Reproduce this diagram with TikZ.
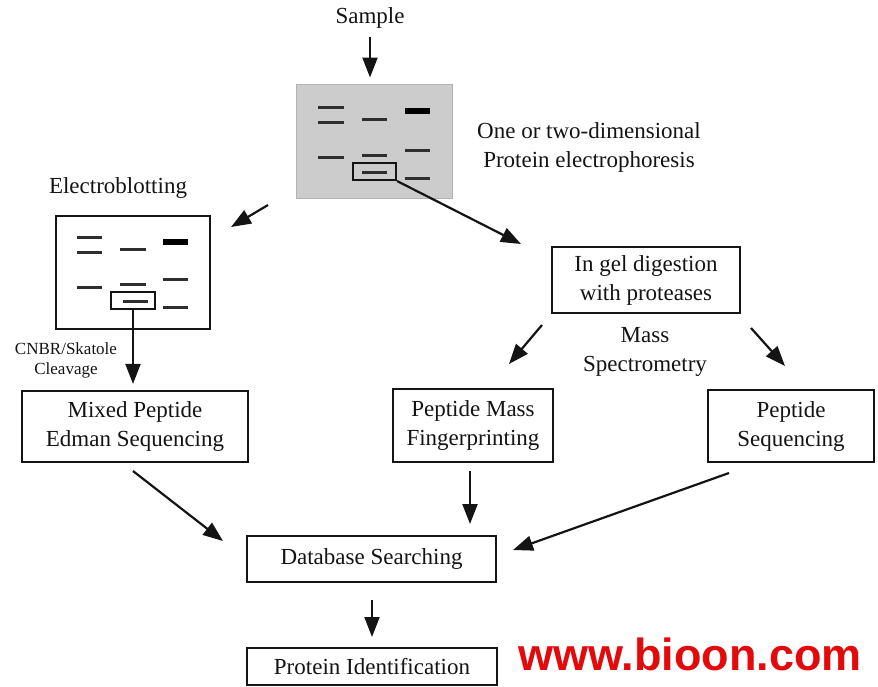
\documentclass[tikz,border=0pt]{standalone}
\usepackage{fontspec}
\setmainfont{Liberation Serif}
\newfontfamily\wmfont{Liberation Sans}
\usetikzlibrary{arrows.meta}
\definecolor{ink}{HTML}{141414}
\definecolor{band}{HTML}{2E2E2E}
\definecolor{wmred}{HTML}{E20A0A}
\tikzset{
  every node/.style={text=ink, inner sep=0pt},
  label/.style={font=\fontsize{23}{29}\selectfont, align=center},
  small/.style={font=\fontsize{17}{20}\selectfont, align=center},
  stepbox/.style={draw=ink, line width=2.2pt, fill=white, label},
  gelbox/.style={draw=gray!60, line width=1pt, fill=gray!40},
  blotbox/.style={draw=ink, line width=2.2pt, fill=white},
  selbox/.style={draw=ink, line width=2pt},
  bandline/.style={draw=band, line width=3pt},
  thickband/.style={draw=black, line width=6.5pt},
  flow/.style={draw=ink, line width=2.2pt, -{Triangle[length=20pt,width=15pt]}},
}
\begin{document}
\begin{tikzpicture}[x=1pt, y=-1pt]
\useasboundingbox (0,0) rectangle (878,686);

% ---- source and gel ----
\node[label] (sample) at (370,18) {Sample};
\node[gelbox, minimum width=156pt, minimum height=114pt] (gel) at (374,141) {};
\foreach \y in {107,122,157} \draw[bandline] (318,\y) -- (344,\y);
\foreach \y in {119,155,172} \draw[bandline] (362,\y) -- (387,\y);
\draw[thickband] (405,111) -- (430,111);
\foreach \y in {150,178} \draw[bandline] (405,\y) -- (430,\y);
\node[selbox, minimum width=43pt, minimum height=17pt] (gelsel) at (374.5,171.5) {};
\node[label] (geltext) at (589,147.5) {One or two-dimensional\\Protein electrophoresis};

% ---- electroblot membrane ----
\node[label] (blottitle) at (118,188) {Electroblotting};
\node[blotbox, minimum width=154pt, minimum height=113pt] (blot) at (133,272.5) {};
\foreach \y in {237,252,287} \draw[bandline] (77,\y) -- (102,\y);
\foreach \y in {249,284} \draw[bandline] (120,\y) -- (146,\y);
\draw[bandline] (123,301) -- (148,301);
\draw[thickband] (163,242) -- (188,242);
\foreach \y in {279,307} \draw[bandline] (163,\y) -- (188,\y);
\node[selbox, minimum width=44pt, minimum height=17pt] (blotsel) at (133,300.5) {};
\node[small] (cleave) at (66,360) {CNBR/Skatole\\Cleavage};

% ---- processing steps ----
\node[stepbox, minimum width=188pt, minimum height=66pt] (digest) at (646,280) {In gel digestion\\with proteases};
\node[label] (mass) at (645,351.5) {Mass\\Spectrometry};
\node[stepbox, minimum width=226pt, minimum height=71pt] (mixed) at (135,426.5) {Mixed Peptide\\Edman Sequencing};
\node[stepbox, minimum width=160pt, minimum height=73pt] (pmf) at (473,425.5) {Peptide Mass\\Fingerprinting};
\node[stepbox, minimum width=166pt, minimum height=72pt] (pseq) at (791,426) {Peptide\\Sequencing};
\node[stepbox, minimum width=249pt, minimum height=46pt] (db) at (371.5,559) {Database Searching};
\node[stepbox, minimum width=250pt, minimum height=37pt] (pid) at (372,666.5) {Protein Identification};

% ---- free arrow ends ----
\coordinate (toblotA) at (268,205);
\coordinate (toblotB) at (231,227);
\coordinate (todigest) at (521,244);
\coordinate (msLa) at (542,325);
\coordinate (msLb) at (509,364);
\coordinate (msRa) at (751,328);
\coordinate (msRb) at (785,366);
\coordinate (mixout) at (133,471);
\coordinate (mixin) at (223,541);
\coordinate (pmfout) at (470,471);
\coordinate (pmfin) at (470,524);
\coordinate (psout) at (729,473);
\coordinate (psin) at (513,550);
\coordinate (dbout) at (372,600);
\coordinate (pidin) at (372,637);

% ---- connectors ----
\draw[flow] ([yshift=-8pt]sample.south) -- ([yshift=6pt]sample.south |- gel.north);
\draw[flow] (toblotA) -- (toblotB);
\draw[flow] (gelsel.south east) -- (todigest);
\draw[flow] (blotsel.south) -- ([yshift=6pt]blotsel.south |- mixed.north);
\draw[flow] (msLa) -- (msLb);
\draw[flow] (msRa) -- (msRb);
\draw[flow] (mixout) -- (mixin);
\draw[flow] (pmfout) -- (pmfin);
\draw[flow] (psout) -- (psin);
\draw[flow] (dbout) -- (pidin);

% ---- watermark ----
\node[font=\wmfont\bfseries\fontsize{45}{45}\selectfont, text=wmred, anchor=west] (wm) at (518,654) {www.bioon.com};
\end{tikzpicture}
\end{document}
